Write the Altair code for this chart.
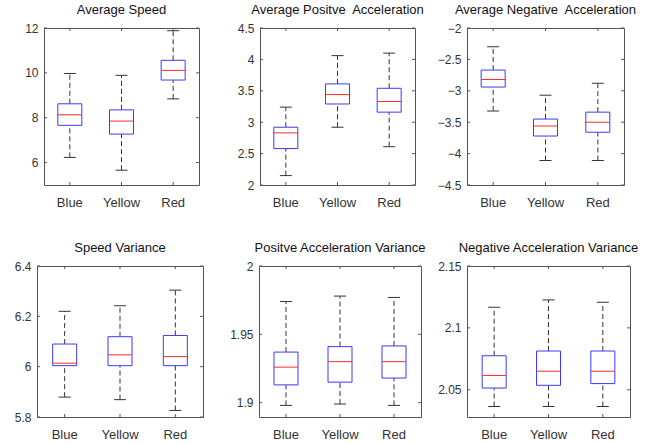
import altair as alt
import pandas as pd

categories = ["Blue", "Yellow", "Red"]
titles = [
    "Average Speed",
    "Average Positve\u00a0 Acceleration",
    "Average Negative\u00a0 Acceleration",
    "Speed Variance",
    "Positve Acceleration Variance",
    "Negative Acceleration Variance",
]

# whisker low, Q1, median, Q3, whisker high  (per panel, per category)
whisker_low = [
    [6.23, 5.66, 8.84],
    [2.15, 2.92, 2.61],
    [-3.32, -4.11, -4.11],
    [5.879, 5.869, 5.826],
    [1.898, 1.899, 1.898],
    [2.0365, 2.0365, 2.0365],
]
q1 = [
    [7.66, 7.27, 9.68],
    [2.58, 3.29, 3.16],
    [-2.94, -3.72, -3.66],
    [6.004, 6.004, 6.004],
    [1.913, 1.915, 1.918],
    [2.0514, 2.0536, 2.055],
]
median = [
    [8.13, 7.85, 10.11],
    [2.83, 3.44, 3.33],
    [-2.82, -3.56, -3.50],
    [6.014, 6.047, 6.040],
    [1.926, 1.930, 1.930],
    [2.0615, 2.065, 2.065],
]
q3 = [
    [8.62, 8.35, 10.56],
    [2.92, 3.61, 3.54],
    [-2.67, -3.45, -3.34],
    [6.09, 6.119, 6.124],
    [1.937, 1.941, 1.9415],
    [2.0775, 2.0813, 2.0813],
]
whisker_high = [
    [9.97, 9.89, 11.88],
    [3.24, 4.06, 4.10],
    [-2.30, -3.07, -2.88],
    [6.22, 6.242, 6.304],
    [1.974, 1.978, 1.977],
    [2.1166, 2.1226, 2.1207],
]
y_domains = [
    [5, 12],
    [2, 4.5],
    [-4.5, -2],
    [5.8, 6.4],
    [1.8895, 2.0],
    [2.028, 2.15],
]
y_ticks = [
    [6, 8, 10, 12],
    [2, 2.5, 3, 3.5, 4, 4.5],
    [-4.5, -4, -3.5, -3, -2.5, -2],
    [5.8, 6.0, 6.2, 6.4],
    [1.9, 1.95, 2.0],
    [2.05, 2.1, 2.15],
]

FONT = "Liberation Sans"
BLUE = "#3a3aff"
RED = "#ff2a2a"
WHISK = "#333333"
FRAME = "#555555"

widths = [155, 155, 157, 166, 162, 163]
heights = [157, 157, 157, 151, 151, 151]
extents = [30, 54, 36, 25, 49, 34]


def panel(i):
    w, h = widths[i], heights[i]
    df = pd.DataFrame({
        "cat": categories,
        "lo": whisker_low[i],
        "q1": q1[i],
        "med": median[i],
        "q3": q3[i],
        "hi": whisker_high[i],
    })
    tick_df = pd.DataFrame({"v": y_ticks[i]})
    cat_df = pd.DataFrame({"cat": categories})

    xenc = alt.X(
        "cat:N",
        sort=categories,
        scale=alt.Scale(type="band", paddingInner=0, paddingOuter=0),
        axis=alt.Axis(
            title=None, labelAngle=0, domain=False, ticks=False, tickSize=0,
            labelPadding=11, labelFontSize=13, labelColor="#333333", labelFont=FONT,
        ),
    )
    yscale = alt.Scale(domain=y_domains[i], nice=False, zero=False)
    yaxis = alt.Axis(
        title=None, values=y_ticks[i], tickCount=len(y_ticks[i]), format="~g",
        grid=False, domain=False, ticks=False, tickSize=0, labelPadding=6,
        labelFontSize=12, labelColor="#333333", labelFont=FONT, labelOverlap=False,
        minExtent=extents[i], maxExtent=extents[i],
    )

    base = alt.Chart(df).encode(x=xenc)
    lower = base.mark_rule(color=WHISK, strokeWidth=1, strokeDash=[5, 3]).encode(
        y=alt.Y("lo:Q", scale=yscale, axis=yaxis), y2="q1:Q"
    )
    upper = base.mark_rule(color=WHISK, strokeWidth=1, strokeDash=[5, 3]).encode(
        y="q3:Q", y2="hi:Q"
    )
    cap_lo = base.mark_tick(size=12, thickness=1, color=WHISK, opacity=1).encode(y="lo:Q")
    cap_hi = base.mark_tick(size=12, thickness=1, color=WHISK, opacity=1).encode(y="hi:Q")
    box = base.mark_bar(size=24, fill="white", stroke=BLUE, strokeWidth=1, opacity=1).encode(
        y="q1:Q", y2="q3:Q"
    )
    med = base.mark_tick(size=24, thickness=1, color=RED, opacity=1).encode(y="med:Q")

    ytl = alt.Chart(tick_df).mark_rule(color=FRAME, strokeWidth=1).encode(
        y="v:Q", x=alt.value(0), x2=alt.value(3)
    )
    ytr = alt.Chart(tick_df).mark_rule(color=FRAME, strokeWidth=1).encode(
        y="v:Q", x=alt.value(w - 3), x2=alt.value(w)
    )
    xtb = alt.Chart(cat_df).mark_rule(color=FRAME, strokeWidth=1).encode(
        x=alt.X("cat:N", sort=categories), y=alt.value(h), y2=alt.value(h - 3)
    )
    xtt = alt.Chart(cat_df).mark_rule(color=FRAME, strokeWidth=1).encode(
        x=alt.X("cat:N", sort=categories), y=alt.value(0), y2=alt.value(3)
    )

    return alt.layer(lower, upper, cap_lo, cap_hi, box, med, ytl, ytr, xtb, xtt).properties(
        width=w,
        height=h,
        title=alt.Title(
            titles[i], frame="group", anchor="middle", offset=5, fontSize=13,
            font=FONT, fontWeight="normal", color="#111111",
        ),
    )


def spacer(w, h):
    return (
        alt.Chart(pd.DataFrame({"a": [0]}))
        .mark_point(opacity=0)
        .encode(x=alt.value(0), y=alt.value(0))
        .properties(width=w, height=h, view=alt.ViewBackground(strokeOpacity=0))
    )


row1 = alt.hconcat(spacer(5, 157), panel(0), panel(1), panel(2), spacing=5)
row2 = alt.hconcat(spacer(2, 151), panel(3), panel(4), panel(5), spacing=5)

chart = (
    alt.vconcat(row1, row2, spacing=31)
    .properties(padding={"left": 0, "top": 3, "right": 0, "bottom": 0}, background="white")
    .configure_view(stroke=FRAME, strokeWidth=1)
)

chart.save("out.html", embed_options={"renderer": "svg", "actions": False})
